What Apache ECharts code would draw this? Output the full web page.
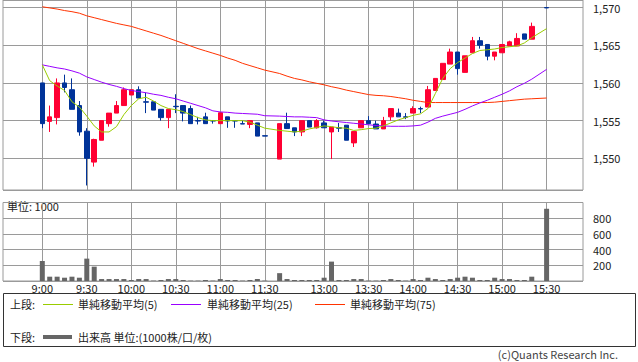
<!DOCTYPE html>
<html><head><meta charset="utf-8">
<script src="https://cdn.jsdelivr.net/npm/echarts@6/dist/echarts.min.js"></script>
<style>html,body{margin:0;padding:0;background:#fff}#c{width:638px;height:362px}</style>
</head><body><div id="c"></div>
<script>
const categories = ['9:00','9:05','9:10','9:15','9:20','9:25','9:30','9:35','9:40','9:45','9:50','9:55',
 '10:00','10:05','10:10','10:15','10:20','10:25','10:30','10:35','10:40','10:45','10:50','10:55',
 '11:00','11:05','11:10','11:15','11:20','11:25','11:30','',
 '12:30','12:35','12:40','12:45','12:50','12:55','13:00','13:05','13:10','13:15','13:20','13:25',
 '13:30','13:35','13:40','13:45','13:50','13:55','14:00','14:05','14:10','14:15','14:20','14:25',
 '14:30','14:35','14:40','14:45','14:50','14:55','15:00','15:05','15:10','15:15','15:20','15:25','15:30'];
const tickLabels = ['9:00','9:30','10:00','10:30','11:00','11:30','13:00','13:30','14:00','14:30','15:00','15:30'];

const openP = [1560.0,1554.9,1555.4,1560.0,1559.1,1557.0,1553.6,1549.5,1552.4,1554.6,1556.0,1557.0,
 1558.4,1559.1,1557.5,1557.5,1556.5,1555.4,1556.9,1557.0,1556.6,1555.0,1555.5,1555.0,
 1554.6,1555.5,1555.0,1554.6,1554.5,1554.7,1553.0,null,
 1549.9,1554.6,1554.05,1553.5,1555.0,1554.05,1554.7,1553.5,1554.05,1554.4,1552.05,1554.05,
 1555.0,1554.55,1553.9,1555.5,1556.0,1555.5,1556.0,1556.6,1556.8,1559.0,1560.45,1562.5,
 1564.1,1561.4,1564.0,1565.6,1565.1,1563.55,1564.0,1564.9,1564.9,1566.5,1565.8,null,1570.0];
const closeP = [1554.6,1555.5,1560.0,1559.4,1556.5,1553.5,1550.0,1552.5,1555.0,1556.0,1557.0,1559.1,
 1559.1,1558.0,1557.45,1556.4,1555.4,1556.5,1556.85,1556.0,1554.6,1554.95,1554.6,1554.95,
 1556.05,1554.95,1554.95,1554.55,1555.0,1552.95,1552.95,null,
 1554.6,1553.95,1553.5,1555.0,1554.15,1555.0,1554.05,1554.15,1554.0,1552.4,1553.55,1555.0,
 1554.6,1553.9,1555.0,1556.6,1555.5,1555.45,1556.6,1556.55,1559.1,1560.6,1562.6,1564.1,
 1561.9,1563.6,1565.6,1565.0,1563.55,1564.1,1565.1,1565.45,1565.9,1565.8,1567.5,null,1569.95];
const lowP = [1554.0,1553.5,1554.5,1558.75,1556.5,1553.0,1546.4,1548.9,1552.4,1554.2,1556.0,1557.0,
 1558.4,1558.0,1556.0,1556.4,1555.0,1554.0,1556.0,1554.9,1554.6,1554.5,1554.6,1554.6,
 1554.6,1554.05,1554.05,1554.55,1554.0,1552.95,1552.95,null,
 1549.9,1553.95,1552.95,1552.95,1554.15,1553.95,1554.05,1549.9,1553.5,1552.4,1551.5,1554.05,
 1554.6,1553.9,1553.9,1555.0,1555.5,1555.2,1556.0,1556.0,1556.8,1559.0,1560.45,1562.5,
 1561.1,1561.4,1564.0,1564.55,1563.0,1563.0,1564.0,1564.9,1564.9,1565.8,1565.8,null,1569.95];
const highP = [1560.0,1557.0,1560.6,1561.1,1560.6,1557.6,1554.0,1552.6,1555.0,1556.0,1557.6,1559.4,
 1559.1,1559.55,1558.7,1557.5,1556.5,1556.5,1558.5,1557.0,1557.0,1555.5,1556.05,1555.0,
 1556.05,1555.5,1555.0,1555.0,1555.0,1554.7,1553.0,null,
 1554.6,1556.05,1554.05,1555.0,1555.0,1555.2,1555.0,1554.15,1554.7,1554.4,1553.55,1555.0,
 1555.6,1555.0,1555.5,1556.6,1556.6,1556.0,1556.9,1556.85,1559.6,1560.6,1562.6,1564.55,
 1564.1,1563.6,1566.1,1566.1,1565.1,1564.1,1565.1,1565.6,1566.6,1566.5,1568.0,null,1570.0];

const ma5 = [1562.4,1560.3,1559.6,1559.0,1557.5,1556.8,1555.6,1554.3,1553.5,1553.5,1554.2,1555.8,
 1557.0,1557.9,1558.1,1557.6,1557.0,1556.6,1556.45,1556.2,1555.8,1555.4,1555.1,1555.0,
 1555.0,1555.0,1555.0,1555.0,1554.8,1554.4,1554.0,null,
 1553.7,1553.6,1553.5,1553.6,1553.9,1554.1,1554.3,1554.2,1554.05,1554.0,1553.7,1553.8,
 1553.95,1554.0,1554.3,1554.7,1555.1,1555.4,1555.7,1555.9,1556.6,1558.6,1560.6,1561.9,
 1562.7,1563.3,1563.9,1564.3,1564.4,1564.5,1564.7,1564.8,1564.9,1565.3,1566.0,null,1567.2];
const ma25 = [1562.4,1562.2,1562.0,1561.85,1561.6,1561.3,1560.8,1560.45,1560.1,1559.8,1559.55,1559.25,
 1559.0,1558.85,1558.7,1558.5,1558.35,1558.1,1557.9,1557.6,1557.3,1557.0,1556.7,1556.3,
 1556.15,1556.1,1556.0,1555.95,1555.9,1555.85,1555.65,null,
 1555.6,1555.55,1555.5,1555.5,1555.45,1555.4,1555.1,1554.95,1554.85,1554.75,1554.65,1554.55,
 1554.45,1554.35,1554.3,1554.25,1554.25,1554.25,1554.3,1554.4,1554.8,1555.3,1555.6,1555.85,
 1556.1,1556.5,1556.95,1557.35,1557.7,1558.1,1558.5,1558.95,1559.5,1559.95,1560.5,null,1561.8];
const ma75 = [1570.1,1569.95,1569.8,1569.6,1569.45,1569.25,1568.9,1568.65,1568.4,1568.15,1567.9,1567.7,
 1567.5,1567.2,1566.9,1566.6,1566.3,1565.95,1565.6,1565.25,1564.9,1564.55,1564.25,1563.95,
 1563.65,1563.3,1563.0,1562.6,1562.3,1562.0,1561.7,null,
 1561.25,1560.9,1560.6,1560.4,1560.15,1559.95,1559.75,1559.5,1559.3,1559.05,1558.85,1558.65,
 1558.45,1558.35,1558.3,1558.2,1558.05,1557.9,1557.7,1557.55,1557.4,1557.4,1557.4,1557.4,
 1557.4,1557.4,1557.4,1557.4,1557.4,1557.45,1557.55,1557.65,1557.75,1557.85,1557.9,null,1558.0];
const volume = [255,55,55,42,55,42,285,183,25,25,25,25,
 13,25,25,5,13,25,25,13,5,5,13,5,
 25,13,13,5,13,25,5,null,
 100,25,13,13,13,13,42,247,13,13,25,25,
 5,5,13,25,13,5,25,13,42,25,13,25,
 42,55,42,13,13,42,25,25,13,13,55,null,920];

const FONT = '"Noto Sans CJK JP", "Noto Sans", sans-serif';
const GRID = '#9a9a9a';
const RED = '#ff0033', BLUE = '#003399';
const C5 = '#99cc00', C25 = '#9900ff', C75 = '#ff3300';
const PMIN = 1545.8, PMAX = 1571;

const isTick = (idx, val) => tickLabels.indexOf(val) >= 0;
const candles = categories.map((c, i) => openP[i] == null ? ['-','-','-','-'] : [openP[i], closeP[i], lowP[i], highP[i]]);

const chart = echarts.init(document.getElementById('c'), null, {renderer: 'svg'});
const labelStyle = {fontFamily: FONT, fontSize: 11, color: '#222'};

chart.setOption({
  animation: false,
  grid: [
    {left: 3, right: 55, top: 0, height: 190, show: true, borderColor: GRID, borderWidth: 1},
    {left: 42.3, right: 91.4, top: 0, height: 190},
    {left: 3, right: 55, top: 202.5, height: 78.5, show: true, borderColor: GRID, borderWidth: 1},
    {left: 42.3, right: 91.4, top: 202.5, height: 78.5}
  ],
  xAxis: [
    {gridIndex: 0, type: 'value', min: 0, max: 1, show: false},
    {gridIndex: 1, type: 'category', data: categories, boundaryGap: false,
     axisLine: {show: false}, axisTick: {show: false}, axisLabel: {show: false},
     splitLine: {show: true, interval: isTick, lineStyle: {color: GRID, width: 1}}},
    {gridIndex: 2, type: 'value', min: 0, max: 1, show: false},
    {gridIndex: 3, type: 'category', data: categories, boundaryGap: false,
     axisLine: {show: false}, axisTick: {show: false},
     axisLabel: Object.assign({interval: isTick, margin: 1}, labelStyle),
     splitLine: {show: true, interval: isTick, lineStyle: {color: GRID, width: 1}}}
  ],
  yAxis: [
    {gridIndex: 0, type: 'value', min: PMIN, max: PMAX, splitNumber: 5, position: 'right',
     axisLine: {show: false},
     axisTick: {show: true, inside: false, length: 6, lineStyle: {color: GRID}},
     axisLabel: Object.assign({margin: 10, showMinLabel: false, showMaxLabel: false,
       formatter: v => (Math.abs(v % 5) < 1e-6 ? v.toLocaleString('en-US') : '')}, labelStyle),
     splitLine: {show: true, lineStyle: {color: GRID, width: 1}}},
    {gridIndex: 1, type: 'value', min: PMIN, max: PMAX, show: false},
    {gridIndex: 2, type: 'value', min: 0, max: 1000, interval: 200, position: 'right',
     axisLine: {show: false},
     axisTick: {show: true, inside: false, length: 6, lineStyle: {color: GRID}},
     axisLabel: Object.assign({margin: 10, formatter: v => (v === 0 || v === 1000 ? '' : String(v))}, labelStyle),
     splitLine: {show: true, lineStyle: {color: GRID, width: 1}}},
    {gridIndex: 3, type: 'value', min: 0, max: 1000, show: false}
  ],
  series: [
    {type: 'candlestick', xAxisIndex: 1, yAxisIndex: 1, data: candles, barWidth: 5, clip: false,
     itemStyle: {color: RED, color0: BLUE, borderColor: RED, borderColor0: BLUE, borderWidth: 1}},
    {type: 'line', name: 'MA75', xAxisIndex: 1, yAxisIndex: 1, data: ma75, symbol: 'none', connectNulls: true,
     lineStyle: {color: C75, width: 1}},
    {type: 'line', name: 'MA25', xAxisIndex: 1, yAxisIndex: 1, data: ma25, symbol: 'none', connectNulls: true,
     lineStyle: {color: C25, width: 1}},
    {type: 'line', name: 'MA5', xAxisIndex: 1, yAxisIndex: 1, data: ma5, symbol: 'none', connectNulls: true,
     lineStyle: {color: C5, width: 1}},
    {type: 'bar', xAxisIndex: 3, yAxisIndex: 3, data: volume, barWidth: 5, clip: false,
     itemStyle: {color: '#666666'}}
  ],
  graphic: [
    {type: 'text', left: 7, top: 200, style: {text: '単位: 1000', font: '11px ' + FONT, fill: '#222'}},
    {type: 'rect', shape: {x: 3.5, y: 293.5, width: 632, height: 53}, style: {fill: 'none', stroke: '#333', lineWidth: 1}},
    {type: 'text', x: 10, y: 304, style: {text: '上段:', font: '11px ' + FONT, fill: '#222', textVerticalAlign: 'middle'}},
    {type: 'line', shape: {x1: 43, y1: 304.5, x2: 73, y2: 304.5}, style: {stroke: C5, lineWidth: 1}},
    {type: 'text', x: 78, y: 304, style: {text: '単純移動平均(5)', font: '11px ' + FONT, fill: '#222', textVerticalAlign: 'middle'}},
    {type: 'line', shape: {x1: 171, y1: 304.5, x2: 201, y2: 304.5}, style: {stroke: C25, lineWidth: 1}},
    {type: 'text', x: 207, y: 304, style: {text: '単純移動平均(25)', font: '11px ' + FONT, fill: '#222', textVerticalAlign: 'middle'}},
    {type: 'line', shape: {x1: 315, y1: 304.5, x2: 345, y2: 304.5}, style: {stroke: C75, lineWidth: 1}},
    {type: 'text', x: 350, y: 304, style: {text: '単純移動平均(75)', font: '11px ' + FONT, fill: '#222', textVerticalAlign: 'middle'}},
    {type: 'text', x: 10, y: 337, style: {text: '下段:', font: '11px ' + FONT, fill: '#222', textVerticalAlign: 'middle'}},
    {type: 'line', shape: {x1: 43, y1: 337, x2: 72, y2: 337}, style: {stroke: '#666', lineWidth: 4}},
    {type: 'text', x: 78, y: 337, style: {text: '出来高 単位:(1000株/口/枚)', font: '11px ' + FONT, fill: '#222', textVerticalAlign: 'middle'}},
    {type: 'text', x: 618, y: 354, style: {text: '(c)Quants Research Inc.', font: '11px ' + FONT, fill: '#444', textAlign: 'right', textVerticalAlign: 'middle'}}
  ]
});
</script>
</body></html>
